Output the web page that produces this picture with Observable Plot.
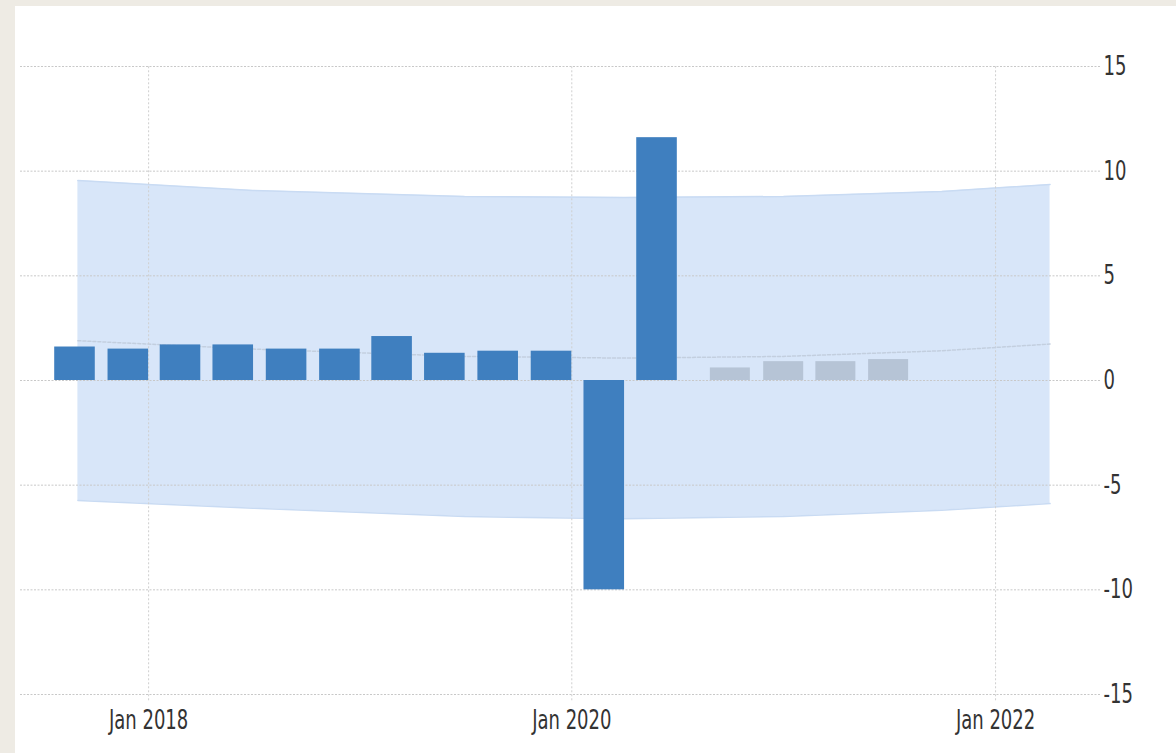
<!DOCTYPE html>
<html>
<head>
<meta charset="utf-8">
<script src="https://cdn.jsdelivr.net/npm/d3@7"></script>
<script src="https://cdn.jsdelivr.net/npm/@observablehq/plot@0.6"></script>
<style>
  html, body { margin: 0; padding: 0; background: #eeebe4; width: 1176px; height: 753px; overflow: hidden; }
  #frame { position: absolute; left: 15px; top: 6px; width: 1161px; height: 747px; background: #ffffff; }
  #frame svg { display: block; }
</style>
</head>
<body>
<div id="frame"></div>
<script>
// Actual quarterly values (QoQ growth, %), dated at quarter end
const actualQuarters = ["2017-09-30","2017-12-31","2018-03-31","2018-06-30","2018-09-30","2018-12-31",
                        "2019-03-31","2019-06-30","2019-09-30","2019-12-31","2020-03-31","2020-06-30"];
const actualValues   = [1.6, 1.5, 1.7, 1.7, 1.5, 1.5, 2.1, 1.3, 1.4, 1.4, -10.0, 11.6];

// Forecast quarters
const forecastQuarters = ["2020-09-30","2020-12-31","2021-03-31","2021-06-30"];
const forecastValues   = [0.6, 0.9, 0.9, 1.0];

// Forecast band (upper / lower bound) and its mid line
const bandDates  = ["2017-09-01","2018-06-30","2019-06-30","2020-03-31","2020-12-31","2021-09-30","2022-04-05"];
const bandUpper  = [9.56, 9.08, 8.79, 8.74, 8.79, 9.03, 9.36];
const bandLower  = [-5.73, -6.1, -6.5, -6.6, -6.5, -6.2, -5.88];
const bandMid    = [1.9, 1.5, 1.15, 1.07, 1.15, 1.42, 1.74];

// Axis ticks
const yTicks = [-15, -10, -5, 0, 5, 10, 15];
const xTickDates = ["2018-01-01","2020-01-01","2022-01-01"];

const parse = d3.utcParse("%Y-%m-%d");
const actual = actualQuarters.map((q, i) => ({date: parse(q), value: actualValues[i]}));
const forecast = forecastQuarters.map((q, i) => ({date: parse(q), value: forecastValues[i]}));
const band = bandDates.map((d, i) => ({date: parse(d), upper: bandUpper[i], lower: bandLower[i], mid: bandMid[i]}));
const xTicks = xTickDates.map(parse);

const font = "'DejaVu Sans Condensed', 'DejaVu Sans', sans-serif";

const chart = Plot.plot({
  width: 1161,
  height: 747,
  marginTop: 60,
  marginBottom: 59,
  marginLeft: 5,
  marginRight: 76,
  style: {fontFamily: font, fontSize: "26px", color: "#333", background: "white", overflow: "visible"},
  x: {type: "utc", domain: [parse("2017-05-25"), parse("2022-07-01")]},
  y: {domain: [-15, 15]},
  marks: [
    Plot.areaY(band, {x: "date", y1: "lower", y2: "upper", fill: "#d8e6f9", curve: "linear"}),
    Plot.lineY(band, {x: "date", y: "upper", stroke: "#c9dbf3", strokeWidth: 1.5}),
    Plot.lineY(band, {x: "date", y: "lower", stroke: "#c9dbf3", strokeWidth: 1.5}),
    Plot.ruleY(yTicks, {stroke: "#c8c8c8", strokeWidth: 1, strokeDasharray: "2,1.5", x1: parse("2017-05-25"), x2: parse("2022-07-01")}),
    Plot.ruleX(xTicks, {y1: -15.3, y2: 15, stroke: "#cfcfcf", strokeWidth: 1, strokeDasharray: "2,2"}),
    Plot.lineY(band, {x: "date", y: "mid", stroke: "#c3cfdf", strokeWidth: 1.5, strokeDasharray: "3,2"}),
    Plot.rectY(actual, {
      x1: d => d3.utcDay.offset(d.date, -69),
      x2: d => d3.utcDay.offset(d.date, 1),
      y1: 0, y2: "value", fill: "#3f7fbf"
    }),
    Plot.rectY(forecast, {
      x1: d => d3.utcDay.offset(d.date, -34),
      x2: d => d3.utcDay.offset(d.date, 35),
      y1: 0, y2: "value", fill: "#b6c4d6"
    }),
    Plot.axisY(yTicks, {anchor: "right", tickSize: 0, tickPadding: 3, tickFormat: d => String(d), fill: "#333", fontSize: 26, className: "narrow"}),
    Plot.axisX(xTicks, {anchor: "bottom", tickSize: 0, tickPadding: 16, tickFormat: d3.utcFormat("%b %Y"), fill: "#333", fontSize: 26, className: "narrow"})
  ]
});
// Condense the axis labels horizontally around their anchor points
chart.querySelectorAll("g.narrow text").forEach(t => {
  const x = +t.getAttribute("x") || 0;
  const y = +t.getAttribute("y") || 0;
  const prev = t.getAttribute("transform") || "";
  t.setAttribute("transform", `${prev} translate(${x},${y}) scale(0.77,1) translate(${-x},${-y})`);
});
document.getElementById("frame").appendChild(chart);
</script>
</body>
</html>
